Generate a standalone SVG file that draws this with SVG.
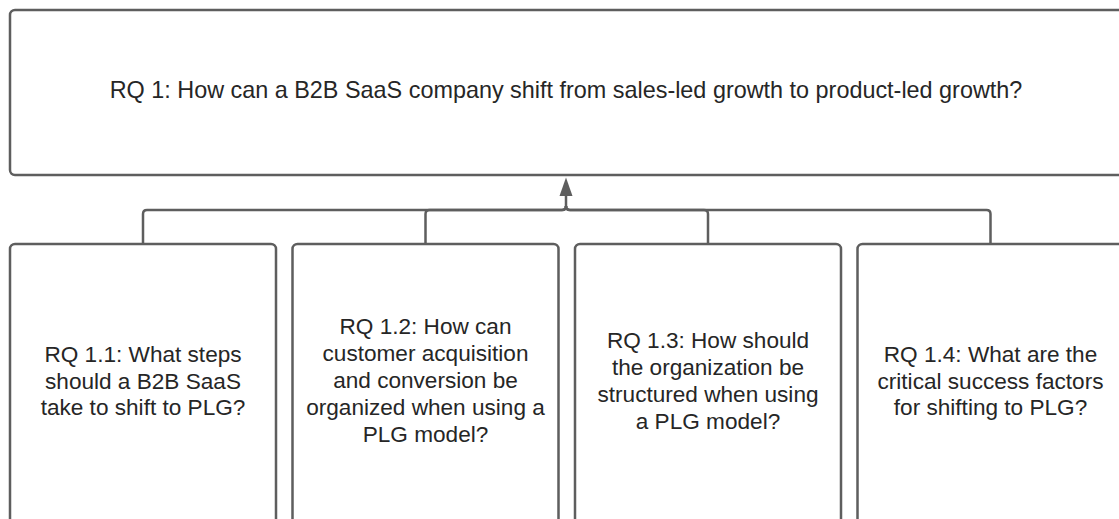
<svg xmlns="http://www.w3.org/2000/svg" width="1119" height="519" viewBox="0 0 1119 519">
<defs>
<style>
.box{fill:#fff;stroke:#5e5e5e;stroke-width:2.5}
.t{font-family:"Liberation Sans",Arial,sans-serif;font-size:22.6px;fill:#262626;text-anchor:middle}
.tt{font-size:23.4px}
.c{fill:none;stroke:#5e5e5e;stroke-width:2.5}
</style>
</defs>
<rect width="1119" height="519" fill="#fff"/>
<g id="connectors">
<path class="c" d="M143 244 V214 Q143 210 147 210 H562 Q566 210 566 206"/>
<path class="c" d="M425.5 244 V214 Q425.5 210 429.5 210 H562 Q566 210 566 206"/>
<path class="c" d="M708 244 V214 Q708 210 704 210 H570 Q566 210 566 206"/>
<path class="c" d="M990.5 244 V214 Q990.5 210 986.5 210 H570 Q566 210 566 206"/>
<path class="c" d="M566 207 V196"/>
<path d="M566 177.5 L572.5 196 L559.5 196 Z" fill="#5e5e5e"/>
</g>
<g id="rq1">
<rect class="box" x="10" y="10" width="1130" height="165" rx="5"/>
<text class="t tt" x="566" y="98">RQ 1: How can a B2B SaaS company shift from sales-led growth to product-led growth?</text>
</g>
<g id="rq11">
<rect class="box" x="10" y="244" width="266" height="300" rx="5"/>
<text class="t" x="143" y="362">RQ 1.1: What steps</text>
<text class="t" x="143" y="388.5">should a B2B SaaS</text>
<text class="t" x="143" y="415">take to shift to PLG?</text>
</g>
<g id="rq12">
<rect class="box" x="292.5" y="244" width="266" height="300" rx="5"/>
<text class="t" x="425.5" y="334">RQ 1.2: How can</text>
<text class="t" x="425.5" y="361">customer acquisition</text>
<text class="t" x="425.5" y="388">and conversion be</text>
<text class="t" x="425.5" y="415">organized when using a</text>
<text class="t" x="425.5" y="442">PLG model?</text>
</g>
<g id="rq13">
<rect class="box" x="575" y="244" width="266" height="300" rx="5"/>
<text class="t" x="708" y="347.5">RQ 1.3: How should</text>
<text class="t" x="708" y="374.5">the organization be</text>
<text class="t" x="708" y="401.5">structured when using</text>
<text class="t" x="708" y="428.5">a PLG model?</text>
</g>
<g id="rq14">
<rect class="box" x="857.5" y="244" width="300" height="300" rx="5"/>
<text class="t" x="990.5" y="362">RQ 1.4: What are the</text>
<text class="t" x="990.5" y="388.5">critical success factors</text>
<text class="t" x="990.5" y="415">for shifting to PLG?</text>
</g>
</svg>
